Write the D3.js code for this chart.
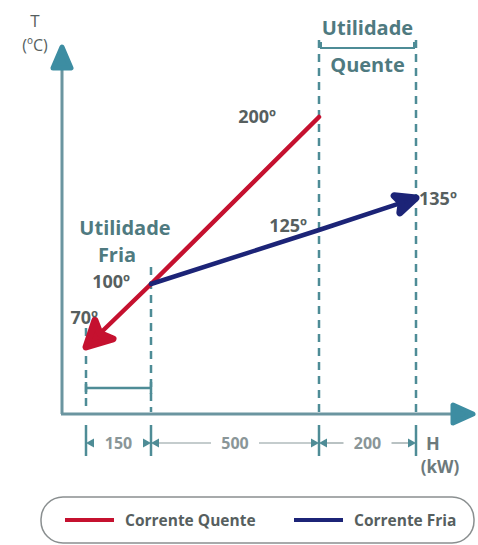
<!DOCTYPE html>
<html><head><meta charset="utf-8">
<script src="https://cdn.jsdelivr.net/npm/d3@7"></script>
<style>body{margin:0;background:#fff}svg{display:block}text{font-family:"Open Sans",sans-serif}</style>
</head><body>
<script>
// ---- data ----
const hotH = [0, 150, 650];
const hotT = [70, 100, 200];
const coldH = [150, 650, 850];
const coldT = [100, 125, 135];
const boundaryH = [0, 150, 650, 850];
const segmentLabels = ["150", "500", "200"];
const hotLabels = [{h: 650, t: 200, text: "200º"}, {h: 0, t: 70, text: "70º"}];
const coldLabels = [{h: 150, t: 100, text: "100º"}, {h: 650, t: 125, text: "125º"}, {h: 850, t: 135, text: "135º"}];
const legendNames = ["Corrente Quente", "Corrente Fria"];

const W = 478, H = 545;
const RED = "#c5112f", BLUE = "#1c2477", TEAL = "#3d8da2", AXIS = "#6b95a0", DASH = "#4e8c96", TXT = "#575f5f", UTX = "#4f7a80";

// schematic (piecewise) scales
const x = d3.scaleLinear().domain(boundaryH).range([86, 151, 319, 416]);
const y = d3.scaleLinear().domain([70, 100, 125, 135, 200]).range([347, 284, 230, 198, 117]);

const svg = d3.select("body").append("svg").attr("width", W).attr("height", H);

// axes
const x0 = 62, y0 = 414;
svg.append("line").attr("x1", x0).attr("y1", y0).attr("x2", x0).attr("y2", 62).attr("stroke", AXIS).attr("stroke-width", 3);
svg.append("line").attr("x1", x0 - 1).attr("y1", y0).attr("x2", 462).attr("y2", y0).attr("stroke", AXIS).attr("stroke-width", 3);
svg.append("path").attr("d", `M${x0},47 L${x0+9},68 L${x0-9},68 Z`).attr("fill", TEAL).attr("stroke", TEAL).attr("stroke-width", 5).attr("stroke-linejoin", "round");
svg.append("path").attr("d", `M473,${y0} L453,${y0-9} L453,${y0+9} Z`).attr("fill", TEAL).attr("stroke", TEAL).attr("stroke-width", 5).attr("stroke-linejoin", "round");

svg.append("text").attr("x", 35).attr("y", 27).attr("text-anchor", "middle").attr("font-size", 17).attr("fill", TXT).text("T");
svg.append("text").attr("x", 35).attr("y", 51).attr("text-anchor", "middle").attr("font-size", 16).attr("fill", TXT).text("(ºC)");
svg.append("text").attr("x", 433).attr("y", 450).attr("text-anchor", "middle").attr("font-size", 18).attr("font-weight", 700).attr("fill", "#6d7a7c").text("H");
svg.append("text").attr("x", 440).attr("y", 473).attr("text-anchor", "middle").attr("font-size", 17).attr("font-weight", 700).attr("fill", "#6d7a7c").text("(kW)");

// dashed boundaries
const dashTops = [328, 267, 40, 40];
boundaryH.forEach((h, i) => {
  svg.append("line").attr("x1", x(h)).attr("x2", x(h)).attr("y1", dashTops[i]).attr("y2", y0 - 2)
    .attr("stroke", DASH).attr("stroke-width", 2.5).attr("stroke-dasharray", "8,6");
  svg.append("line").attr("x1", x(h)).attr("x2", x(h)).attr("y1", 425).attr("y2", 456)
    .attr("stroke", DASH).attr("stroke-width", 2.5);
});

// segment dimension annotations
const yd = 443;
function tri(cx, dir) {
  return `M${cx+dir*5},${yd} L${cx-dir*3},${yd-4.5} L${cx-dir*3},${yd+4.5} Z`;
}
segmentLabels.forEach((lab, i) => {
  const a = x(boundaryH[i]), b = x(boundaryH[i+1]), m = (a + b) / 2;
  svg.append("text").attr("x", m).attr("y", yd + 6).attr("text-anchor", "middle").attr("font-size", 16).attr("font-weight", 700).attr("fill", "#8a9698").text(lab);
  const half = lab.length * 5 + 9;
  if (i > 0) {
    svg.append("line").attr("x1", a + 6).attr("x2", m - half).attr("y1", yd).attr("y2", yd).attr("stroke", "#8a9a9c").attr("stroke-width", 1.2);
    svg.append("line").attr("x1", m + half).attr("x2", b - 6).attr("y1", yd).attr("y2", yd).attr("stroke", "#8a9a9c").attr("stroke-width", 1.2);
  }
  svg.append("path").attr("d", tri(a + 5, -1)).attr("fill", DASH);
  svg.append("path").attr("d", tri(b - 5, 1)).attr("fill", DASH);
});

// utility brackets
const bx1 = x(0), bx2 = x(150), by = 388;
svg.append("line").attr("x1", bx1).attr("x2", bx2).attr("y1", by).attr("y2", by).attr("stroke", DASH).attr("stroke-width", 2.5);
svg.append("line").attr("x1", bx1).attr("x2", bx1).attr("y1", by - 6).attr("y2", by + 6).attr("stroke", DASH).attr("stroke-width", 2.5);
svg.append("line").attr("x1", bx2).attr("x2", bx2).attr("y1", by - 6).attr("y2", by + 6).attr("stroke", DASH).attr("stroke-width", 2.5);
svg.append("text").attr("x", 125).attr("y", 235).attr("text-anchor", "middle").attr("font-size", 20).attr("font-weight", 700).attr("fill", UTX).text("Utilidade");
svg.append("text").attr("x", 117).attr("y", 262).attr("text-anchor", "middle").attr("font-size", 20).attr("font-weight", 700).attr("fill", UTX).text("Fria");

const tx1 = x(650), tx2 = x(850), ty = 48;
svg.append("path").attr("d", `M${tx1+2},${ty-6} L${tx1+2},${ty} L${tx2-2},${ty} L${tx2-2},${ty-6}`).attr("fill", "none").attr("stroke", DASH).attr("stroke-width", 2);
svg.append("text").attr("x", (tx1+tx2)/2).attr("y", 35).attr("text-anchor", "middle").attr("font-size", 20).attr("font-weight", 700).attr("fill", UTX).text("Utilidade");
svg.append("text").attr("x", (tx1+tx2)/2).attr("y", 72).attr("text-anchor", "middle").attr("font-size", 20).attr("font-weight", 700).attr("fill", UTX).text("Quente");

// streams
const hot = hotH.map((h, i) => [h, hotT[i]]).reverse(); // flows from 200 down to 70
const cold = coldH.map((h, i) => [h, coldT[i]]);

function arrow(pts, color, len, wid) {
  const p = pts.map(d => [x(d[0]), y(d[1])]);
  const e = p[p.length - 1], s = p[p.length - 2];
  const ang = Math.atan2(e[1] - s[1], e[0] - s[0]);
  const cx = Math.cos(ang), sy = Math.sin(ang);
  const bx = e[0] - cx * len, byy = e[1] - sy * len;
  svg.append("path").attr("d", d3.line()([...p.slice(0, -1), [bx + cx * 2, byy + sy * 2]])).attr("fill", "none").attr("stroke", color).attr("stroke-width", 4.5).attr("stroke-linecap", "round");
  const notch = 0.22 * len;
  const head = [
    e,
    [bx - sy * wid / 2, byy + cx * wid / 2],
    [bx + cx * notch, byy + sy * notch],
    [bx + sy * wid / 2, byy - cx * wid / 2]
  ];
  svg.append("path").attr("d", "M" + head.join("L") + "Z").attr("fill", color).attr("stroke", color).attr("stroke-width", 7).attr("stroke-linejoin", "round");
}
arrow(hot, RED, 25, 26);
arrow(cold, BLUE, 20, 18);

// temperature labels
const lab = (x1, y1, t, anchor) => svg.append("text").attr("x", x1).attr("y", y1).attr("text-anchor", anchor).attr("font-size", 18).attr("font-weight", 700).attr("fill", TXT).text(t);
lab(x(650) - 43, y(200) + 6, hotLabels[0].text, "end");
lab(x(0) + 12, y(70) - 23, hotLabels[1].text, "end");
lab(x(150) - 21, y(100) + 4, coldLabels[0].text, "end");
lab(x(650) - 12, y(125) + 2, coldLabels[1].text, "end");
lab(x(850) + 3, y(135) + 7, coldLabels[2].text, "start");

// legend
svg.append("rect").attr("x", 41).attr("y", 497).attr("width", 433).attr("height", 46).attr("rx", 22).attr("fill", "#fff").attr("stroke", "#8a8f90").attr("stroke-width", 1.5);
const legItems = [{name: legendNames[0], color: RED, x1: 65}, {name: legendNames[1], color: BLUE, x1: 294}];
legItems.forEach(d => {
  svg.append("line").attr("x1", d.x1).attr("x2", d.x1 + 49).attr("y1", 520).attr("y2", 520).attr("stroke", d.color).attr("stroke-width", 4);
  svg.append("text").attr("x", d.x1 + 60).attr("y", 526).attr("font-size", 15.5).attr("font-weight", 700).attr("fill", TXT).text(d.name);
});
</script>
</body></html>
